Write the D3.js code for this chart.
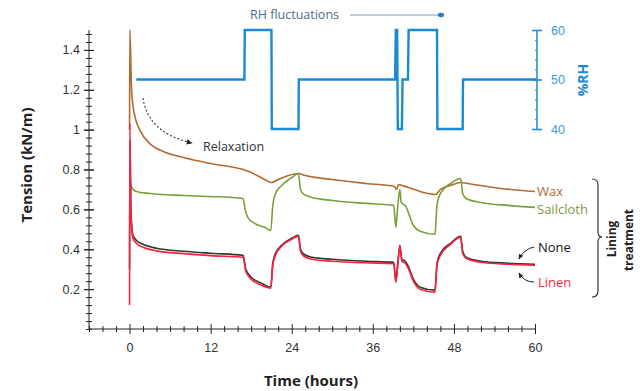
<!DOCTYPE html>
<html lang="en">
<head>
<meta charset="utf-8">
<title>Tension and RH</title>
<script src="https://cdn.jsdelivr.net/npm/d3@7"></script>
<style>
  body { margin: 0; background: #fff; }
  svg { font-family: "Open Sans", sans-serif; }
  .axis path, .axis line { stroke: #222; }
  .axis text { font-size: 12.5px; fill: #333; }
  .rh-axis path, .rh-axis line { stroke: #1a8ad4; }
  .rh-axis text { font-size: 12.5px; fill: #3a9ad8; }
  .tension { fill: none; stroke-width: 1.6px; }
</style>
</head>
<body>
<div id="chart"></div>
<script>
// time (hours) / tension (kN/m)
var waxT   = [0, 0.05, 0.3, 0.7, 1.5, 3, 5, 8, 12, 16.8, 18, 20, 21, 22, 23.5, 25, 26, 30, 35, 39.2, 39.5, 39.8, 40.3, 41.3, 43, 45.3, 46, 47.5, 49, 50, 55, 60];
var waxV   = [1.0, 1.5, 1.2, 1.08, 1.0, 0.93, 0.89, 0.86, 0.83, 0.80, 0.785, 0.75, 0.735, 0.75, 0.77, 0.78, 0.77, 0.75, 0.73, 0.715, 0.70, 0.725, 0.72, 0.71, 0.69, 0.675, 0.70, 0.72, 0.735, 0.73, 0.705, 0.69];

var sailT  = [0.05, 0.3, 1, 3, 8, 12, 16.8, 17.1, 17.5, 18.5, 20, 20.9, 21.2, 21.6, 22.5, 24, 25, 25.3, 25.8, 27, 30, 35, 39.1, 39.4, 39.7, 40, 40.2, 40.9, 41.3, 42, 43, 45.2, 45.5, 46, 47.5, 49, 49.3, 49.8, 52, 56, 60];
var sailV  = [0.76, 0.71, 0.69, 0.68, 0.67, 0.665, 0.655, 0.6, 0.56, 0.53, 0.51, 0.495, 0.62, 0.68, 0.72, 0.76, 0.78, 0.70, 0.675, 0.66, 0.645, 0.63, 0.62, 0.51, 0.62, 0.70, 0.635, 0.615, 0.58, 0.52, 0.49, 0.475, 0.62, 0.68, 0.73, 0.755, 0.68, 0.655, 0.635, 0.62, 0.61];

var noneT  = [0, 0.05, 0.2, 0.5, 1, 2, 4, 8, 12, 16.8, 17.2, 18, 19.5, 20.9, 21.2, 21.6, 22.5, 24, 25, 25.3, 25.8, 27, 30, 35, 39.1, 39.4, 39.7, 40, 40.3, 40.8, 41.3, 42, 43, 45.2, 45.5, 46, 47.5, 49, 49.3, 49.8, 52, 56, 60];
var noneV  = [0.3, 0.95, 0.6, 0.47, 0.445, 0.425, 0.405, 0.39, 0.38, 0.37, 0.30, 0.26, 0.23, 0.21, 0.33, 0.38, 0.42, 0.455, 0.47, 0.40, 0.375, 0.36, 0.35, 0.34, 0.335, 0.24, 0.33, 0.42, 0.35, 0.34, 0.31, 0.25, 0.21, 0.195, 0.33, 0.38, 0.43, 0.465, 0.39, 0.36, 0.34, 0.33, 0.325];

var linenT = [0, 0.05, 0.2, 0.5, 1, 2, 4, 8, 12, 16.8, 17.2, 18, 19.5, 20.9, 21.2, 21.6, 22.5, 24, 25, 25.3, 25.8, 27, 30, 35, 39.1, 39.4, 39.7, 40, 40.3, 40.8, 41.3, 42, 43, 45.2, 45.5, 46, 47.5, 49, 49.3, 49.8, 52, 56, 60];
var linenV = [0.12, 1.03, 0.58, 0.455, 0.43, 0.41, 0.392, 0.378, 0.368, 0.36, 0.29, 0.25, 0.22, 0.205, 0.32, 0.37, 0.415, 0.45, 0.465, 0.39, 0.365, 0.35, 0.34, 0.332, 0.328, 0.235, 0.32, 0.415, 0.34, 0.33, 0.30, 0.24, 0.2, 0.185, 0.32, 0.37, 0.425, 0.46, 0.38, 0.355, 0.335, 0.325, 0.32];

// relative humidity setpoint trace (%RH)
var rhT = [1, 17, 17.05, 21, 21.05, 25, 25.05, 39.3, 39.4, 39.6, 39.7, 40.3, 40.4, 41.2, 41.3, 45.5, 45.55, 49.3, 49.35, 60.2];
var rhV = [50, 50, 60, 60, 40, 40, 50, 50, 60, 60, 40, 40, 50, 50, 60, 60, 40, 40, 50, 50];

var xTicks = [0, 12, 24, 36, 48, 60];
var yTicks = [0.2, 0.4, 0.6, 0.8, 1, 1.2, 1.4];
var rhTicks = [40, 50, 60];

var series = [
  { name: "Wax", t: waxT, v: waxV, color: "#b5692e" },
  { name: "Sailcloth", t: sailT, v: sailV, color: "#78a03a" },
  { name: "None", t: noneT, v: noneV, color: "#2c3a2c" },
  { name: "Linen", t: linenT, v: linenV, color: "#ff1f3f" }
];

var width = 641, height = 391;

var svg = d3.select("#chart").append("svg")
  .attr("width", width)
  .attr("height", height);

var defs = svg.append("defs");
defs.append("marker")
  .attr("id", "arrow")
  .attr("viewBox", "0 0 10 10")
  .attr("refX", 8).attr("refY", 5)
  .attr("markerWidth", 6).attr("markerHeight", 6)
  .attr("orient", "auto")
  .append("path")
  .attr("d", "M0,1 L9,5 L0,9 Z")
  .attr("fill", "#222");

var x = d3.scaleLinear().domain([-6, 60]).range([89, 535]);
var y = d3.scaleLinear().domain([0, 1.5]).range([329, 30]);
var yRH = d3.scaleLinear().domain([40, 60]).range([129, 30]);

// x axis
var xAxis = svg.append("g")
  .attr("class", "axis")
  .attr("transform", "translate(0," + y(0) + ")")
  .call(d3.axisBottom(x).tickValues(d3.range(-6, 61, 2)).tickSize(4)
    .tickFormat(function (d) { return xTicks.indexOf(d) >= 0 ? d : ""; }));
xAxis.selectAll(".tick line")
  .attr("y1", function (d) { return xTicks.indexOf(d) >= 0 ? -5 : -3; })
  .attr("y2", function (d) { return xTicks.indexOf(d) >= 0 ? 5 : 3; });
xAxis.selectAll(".tick text").attr("y", 14);
xAxis.select(".domain").attr("d", "M" + x(-6) + ",0H" + x(60));

// y axis
var yMinor = d3.range(0, 1.5001, 0.04).map(function (d) { return +d.toFixed(2); });
var yAxis = svg.append("g")
  .attr("class", "axis")
  .attr("transform", "translate(" + x(-6) + ",0)")
  .call(d3.axisLeft(y).tickValues(yMinor.concat(yTicks)).tickSize(4).tickFormat(""));
yAxis.selectAll(".tick line")
  .attr("x1", function (d) { return yTicks.indexOf(d) >= 0 ? 5 : 3; })
  .attr("x2", function (d) { return yTicks.indexOf(d) >= 0 ? -5 : -3; });
yAxis.select(".domain").attr("d", "M0," + y(1.5) + "V" + y(0));
yAxis.selectAll(".lbl")
  .data(yTicks)
  .join("text")
  .attr("class", "lbl")
  .attr("x", -9)
  .attr("y", function (d) { return y(d); })
  .attr("dy", "0.35em")
  .attr("text-anchor", "end")
  .text(function (d) { return +d.toFixed(1); });

// RH axis on the right
var rhAxis = svg.append("g")
  .attr("class", "rh-axis")
  .attr("transform", "translate(537,0)")
  .call(d3.axisRight(yRH).tickValues(d3.range(40, 61, 2)).tickSize(3)
    .tickFormat(function (d) { return rhTicks.indexOf(d) >= 0 ? d : ""; }));
rhAxis.selectAll(".tick line")
  .attr("x1", function (d) { return rhTicks.indexOf(d) >= 0 ? -5 : -2; })
  .attr("x2", function (d) { return rhTicks.indexOf(d) >= 0 ? 5 : 0; })
  .attr("stroke-width", function (d) { return rhTicks.indexOf(d) >= 0 ? 1.5 : 1; });
rhAxis.selectAll(".tick text").attr("x", 14);
rhAxis.select(".domain").attr("d", "M0," + yRH(60) + "V" + yRH(40)).attr("stroke-width", 1.5);

// RH trace
svg.append("path")
  .datum(d3.zip(rhT, rhV))
  .attr("fill", "none")
  .attr("stroke", "#1a8ad4")
  .attr("stroke-width", 2.4)
  .attr("d", d3.line()
    .x(function (d) { return x(d[0]); })
    .y(function (d) { return yRH(d[1]); }));

// tension curves
var line = d3.line()
  .curve(d3.curveMonotoneX)
  .x(function (d) { return x(d[0]); })
  .y(function (d) { return y(d[1]); });

svg.selectAll(".tension")
  .data(series)
  .join("path")
  .attr("class", "tension")
  .attr("stroke", function (d) { return d.color; })
  .attr("d", function (d) { return line(d3.zip(d.t, d.v)); });

// axis titles
svg.append("text")
  .attr("transform", "translate(32,165) rotate(-90)")
  .attr("text-anchor", "middle")
  .attr("font-size", 15).attr("font-weight", "bold").attr("fill", "#222")
  .text("Tension (kN/m)");

svg.append("text")
  .attr("x", 311).attr("y", 386)
  .attr("text-anchor", "middle")
  .attr("font-size", 15).attr("font-weight", "bold").attr("fill", "#222")
  .text("Time (hours)");

svg.append("text")
  .attr("transform", "translate(588,80) rotate(-90)")
  .attr("text-anchor", "middle")
  .attr("font-size", 14).attr("font-weight", "bold").attr("fill", "#1a8ad4")
  .text("%RH");

// series labels
var labels = [
  { text: "Wax", x: 537, y: 191, color: "#b06a34" },
  { text: "Sailcloth", x: 537, y: 209, color: "#7d9a3c" },
  { text: "None", x: 538, y: 247, color: "#111" },
  { text: "Linen", x: 538, y: 282, color: "#ff1f3f" }
];
svg.selectAll(".slabel")
  .data(labels)
  .join("text")
  .attr("class", "slabel")
  .attr("x", function (d) { return d.x; })
  .attr("y", function (d) { return d.y; })
  .attr("dy", "0.35em")
  .attr("font-size", 13)
  .attr("fill", function (d) { return d.color; })
  .text(function (d) { return d.text; });

// small arrows to None / Linen
svg.append("path")
  .attr("d", "M534,247 Q524,249 519,259")
  .attr("fill", "none").attr("stroke", "#222").attr("stroke-width", 1)
  .attr("marker-end", "url(#arrow)");
svg.append("path")
  .attr("d", "M534,282 Q524,282 519,273")
  .attr("fill", "none").attr("stroke", "#222").attr("stroke-width", 1)
  .attr("marker-end", "url(#arrow)");

// bracket + lining treatment
svg.append("path")
  .attr("d", "M592,179 Q598,179 598,185 L598,232 Q598,237 602,237 Q598,237 598,242 L598,291 Q598,297 592,297")
  .attr("fill", "none").attr("stroke", "#333").attr("stroke-width", 1.2);
svg.append("text")
  .attr("transform", "translate(616,239) rotate(-90)")
  .attr("text-anchor", "middle")
  .attr("font-size", 12).attr("font-weight", "bold").attr("fill", "#222")
  .text("Lining");
svg.append("text")
  .attr("transform", "translate(633,240) rotate(-90)")
  .attr("text-anchor", "middle")
  .attr("font-size", 12).attr("font-weight", "bold").attr("fill", "#222")
  .text("treatment");

// relaxation annotation
svg.append("path")
  .attr("d", "M143,98 Q148,133 192,143")
  .attr("fill", "none").attr("stroke", "#333").attr("stroke-width", 1.1)
  .attr("stroke-dasharray", "2,2")
  .attr("marker-end", "url(#arrow)");
svg.append("text")
  .attr("x", 203).attr("y", 147)
  .attr("dy", "0.35em")
  .attr("font-size", 12.5).attr("fill", "#333")
  .text("Relaxation");

// RH fluctuations annotation
svg.append("text")
  .attr("x", 250).attr("y", 15)
  .attr("dy", "0.35em")
  .attr("font-size", 12.5).attr("fill", "#4c6e90")
  .text("RH fluctuations");
svg.append("line")
  .attr("x1", 350).attr("x2", 440).attr("y1", 15).attr("y2", 15)
  .attr("stroke", "#7d9ab6").attr("stroke-width", 1);
svg.append("ellipse")
  .attr("cx", 441).attr("cy", 15).attr("rx", 3).attr("ry", 2.2)
  .attr("fill", "#1a7ac8");
</script>
</body>
</html>
